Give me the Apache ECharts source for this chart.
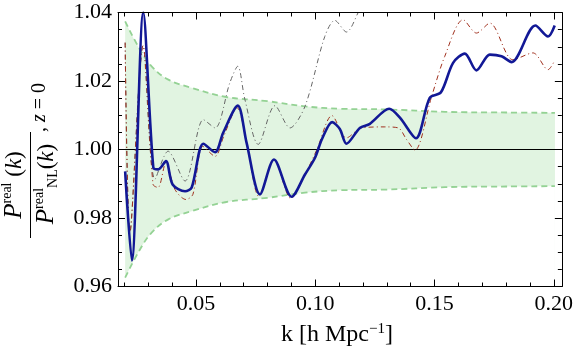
<!DOCTYPE html>
<html>
<head>
<meta charset="utf-8">
<script src="https://cdn.jsdelivr.net/npm/echarts@6/dist/echarts.min.js"></script>
<style>
  html, body { margin: 0; padding: 0; background: #fff; }
  #chart { width: 576px; height: 351px; }
</style>
</head>
<body>
<div id="chart"></div>
<script>
// values
const xTicks = [0.05, 0.10, 0.15, 0.20];
const xMinorTicks = [0.02, 0.03, 0.04, 0.06, 0.07, 0.08, 0.09, 0.11, 0.12, 0.13, 0.14, 0.16, 0.17, 0.18, 0.19];

const kBlue = [0.0203, 0.0231, 0.0279, 0.0321, 0.0342, 0.0374, 0.0402, 0.0454, 0.0482, 0.0531, 0.0580, 0.0614,
  0.0675, 0.0712, 0.0768, 0.0827, 0.0901, 0.0957, 0.0999, 0.1028, 0.1071, 0.1103, 0.1131, 0.1187, 0.1229,
  0.1310, 0.1355, 0.1422, 0.1480, 0.1527, 0.1578, 0.1627, 0.1676, 0.1732, 0.1781, 0.1823, 0.1923, 0.1976, 0.2004];
const vBlue = [0.9936, 0.9676, 1.0400, 0.9948, 0.9942, 0.9966, 0.9898, 0.9878, 0.9889, 1.0017, 0.9992, 1.0049,
  1.0128, 1.0020, 0.9869, 0.9971, 0.9862, 0.9927, 0.9976, 1.0030, 1.0080, 1.0060, 1.0017, 1.0063, 1.0075,
  1.0119, 1.0093, 1.0033, 1.0151, 1.0167, 1.0253, 1.0280, 1.0231, 1.0277, 1.0272, 1.0255, 1.0362, 1.0330, 1.0362];

const kGray = [0.0203, 0.0223, 0.0278, 0.0328, 0.0383, 0.0454, 0.0531, 0.0580, 0.0642, 0.0675, 0.0705, 0.0761,
  0.0831, 0.0894, 0.0957, 0.1040, 0.1082, 0.1131, 0.1180, 0.1204];
const vGray = [1.0312, 0.9758, 1.0303, 0.9913, 0.9995, 0.9908, 1.0087, 1.0063, 1.0195, 1.0243, 1.0146, 1.0015,
  1.0128, 1.0063, 1.0126, 1.0330, 1.0377, 1.0343, 1.0400, 1.0440];

const kRed = [0.0203, 0.0223, 0.0278, 0.0320, 0.0341, 0.0374, 0.0412, 0.0458, 0.0487, 0.0529, 0.0580, 0.0617,
  0.0672, 0.0714, 0.0764, 0.0827, 0.0898, 0.0957, 0.1007, 0.1070, 0.1131, 0.1194, 0.1292, 0.1348, 0.1383,
  0.1418, 0.1488, 0.1543, 0.1620, 0.1676, 0.1732, 0.1829, 0.1913, 0.1976, 0.2004];
const vRed = [1.0312, 0.9758, 1.0303, 0.9898, 0.9889, 0.9962, 0.9883, 0.9854, 0.9869, 1.0009, 0.9980, 1.0040,
  1.0122, 1.0015, 0.9863, 0.9971, 0.9857, 0.9927, 1.0000, 1.0099, 1.0034, 1.0063, 1.0066, 1.0063, 1.0029,
  0.9998, 1.0155, 1.0272, 1.0379, 1.0340, 1.0369, 1.0262, 1.0282, 1.0233, 1.0260];

const kBand = [0.0203, 0.0265, 0.0314, 0.0384, 0.0482, 0.0622, 0.0800, 0.0957, 0.1104, 0.1300, 0.1544, 0.1800, 0.2005];
const bandUpper = [1.0374, 1.0292, 1.0243, 1.0204, 1.0180, 1.0154, 1.0141, 1.0126, 1.0119, 1.0117, 1.0110, 1.0108, 1.0107];
const bandLower = [0.9626, 0.9708, 0.9757, 0.9796, 0.9820, 0.9846, 0.9859, 0.9874, 0.9881, 0.9883, 0.9890, 0.9892, 0.9893];

const xMin = 0.0173, xMax = 0.2034;
const serif = 'Liberation Serif';

function pairs(ks, vs) {
  return ks.map((k, i) => [k, vs[i]]);
}

const chart = echarts.init(document.getElementById('chart'));

const tickStyle = { color: '#000', width: 1 };
function xAxisOf(position, values, len, labels) {
  return {
    type: 'value', min: xMin, max: xMax, position: position, z: 10,
    axisLine: { show: !!labels || position === 'top' && len < 6, lineStyle: tickStyle },
    splitLine: { show: false },
    axisTick: { inside: true, length: len, customValues: values, lineStyle: tickStyle },
    axisLabel: labels ? {
      customValues: xTicks, formatter: v => v.toFixed(2),
      fontFamily: serif, fontSize: 22, color: '#000', margin: 7
    } : { show: false }
  };
}
function yAxisOf(position, labels) {
  return {
    type: 'value', min: 0.96, max: 1.04, interval: 0.02, position: position, z: 10,
    axisLine: { show: true, lineStyle: tickStyle },
    splitLine: { show: false },
    axisTick: { inside: true, length: 7, lineStyle: tickStyle },
    minorTick: { show: true, splitNumber: 4, length: 4, lineStyle: tickStyle },
    axisLabel: labels ? {
      formatter: v => v.toFixed(2), fontFamily: serif, fontSize: 22, color: '#000', margin: 6
    } : { show: false }
  };
}

const supRich = {
  P: { fontFamily: serif, fontSize: 25, fontStyle: 'italic', lineHeight: 28, color: '#000' },
  s: { fontFamily: serif, fontSize: 14, lineHeight: 15, verticalAlign: 'top', color: '#000' },
  b: { fontFamily: serif, fontSize: 14, lineHeight: 13, verticalAlign: 'bottom', color: '#000' },
  n: { fontFamily: serif, fontSize: 23, lineHeight: 28, color: '#000' },
  k: { fontFamily: serif, fontSize: 23, fontStyle: 'italic', lineHeight: 28, color: '#000' },
  z: { fontFamily: serif, fontSize: 20, fontStyle: 'italic', lineHeight: 24, color: '#000' },
  t: { fontFamily: serif, fontSize: 20, lineHeight: 24, color: '#000' }
};

chart.setOption({
  animation: false,
  grid: { left: 118, top: 12.5, width: 444, height: 274, show: false },
  xAxis: [
    xAxisOf('bottom', xMinorTicks, 4, true),
    xAxisOf('bottom', xTicks, 7, false),
    xAxisOf('top', xMinorTicks, 4, false),
    xAxisOf('top', xTicks, 7, false)
  ],
  yAxis: [yAxisOf('left', true), yAxisOf('right', false)],
  series: [
    {
      // upper dashed edge, shaded down to the axis floor
      type: 'line', data: pairs(kBand, bandUpper), symbol: 'none', smooth: 0.4,
      lineStyle: { color: '#94d294', width: 1.8, type: [6, 4] },
      areaStyle: { color: '#e1f4e1', origin: 'start', opacity: 1 }, silent: true
    },
    {
      // lower dashed edge, white below it closes the band
      type: 'line', data: pairs(kBand, bandLower), symbol: 'none', smooth: 0.4,
      lineStyle: { color: '#94d294', width: 1.8, type: [6, 4] },
      areaStyle: { color: '#ffffff', origin: 'start', opacity: 1 }, silent: true
    },
    {
      type: 'line', data: [[xMin, 1], [xMax, 1]], symbol: 'none',
      lineStyle: { color: '#000', width: 1 }
    },
    {
      type: 'line', data: pairs(kGray, vGray), symbol: 'none', smooth: 0.3,
      lineStyle: { color: '#666', width: 1, type: [5, 3, 1, 3] }
    },
    {
      type: 'line', data: pairs(kRed, vRed), symbol: 'none', smooth: 0.3,
      lineStyle: { color: '#a0301e', width: 1, type: [5, 3, 1, 3] }
    },
    {
      type: 'line', data: pairs(kBlue, vBlue), symbol: 'none', smooth: 0.3,
      lineStyle: { color: '#121896', width: 2.6 }
    }
  ],
  graphic: [
    {
      type: 'group', x: 30.5, y: 185, rotation: Math.PI / 2,
      children: [
        { type: 'line', shape: { x1: -53, y1: 0, x2: 53, y2: 0 }, style: { stroke: '#000', lineWidth: 1 } },
        {
          type: 'text', x: 0, y: -2,
          style: { text: '{P|P}{s|real}{n| (}{k|k}{n|)}', rich: supRich, align: 'center', verticalAlign: 'bottom' }
        },
        {
          type: 'text', x: 1, y: 2,
          style: { text: '{P|P}{s|real}{b|NL}{n|(}{k|k}{n|)}', rich: supRich, align: 'center', verticalAlign: 'top' }
        },
        {
          type: 'text', x: 53, y: 9,
          style: { text: '{t|, }{z|z}{t| = 0}', rich: supRich, align: 'left', verticalAlign: 'middle' }
        }
      ]
    },
    {
      type: 'text', x: 337, y: 335,
      style: {
        text: '{a|k [h Mpc}{s|−1}{a|]}',
        rich: {
          a: { fontFamily: serif, fontSize: 24, lineHeight: 26, color: '#000' },
          s: { fontFamily: serif, fontSize: 15, lineHeight: 14, verticalAlign: 'top', color: '#000' }
        },
        align: 'center', verticalAlign: 'middle'
      }
    }
  ]
});
</script>
</body>
</html>
